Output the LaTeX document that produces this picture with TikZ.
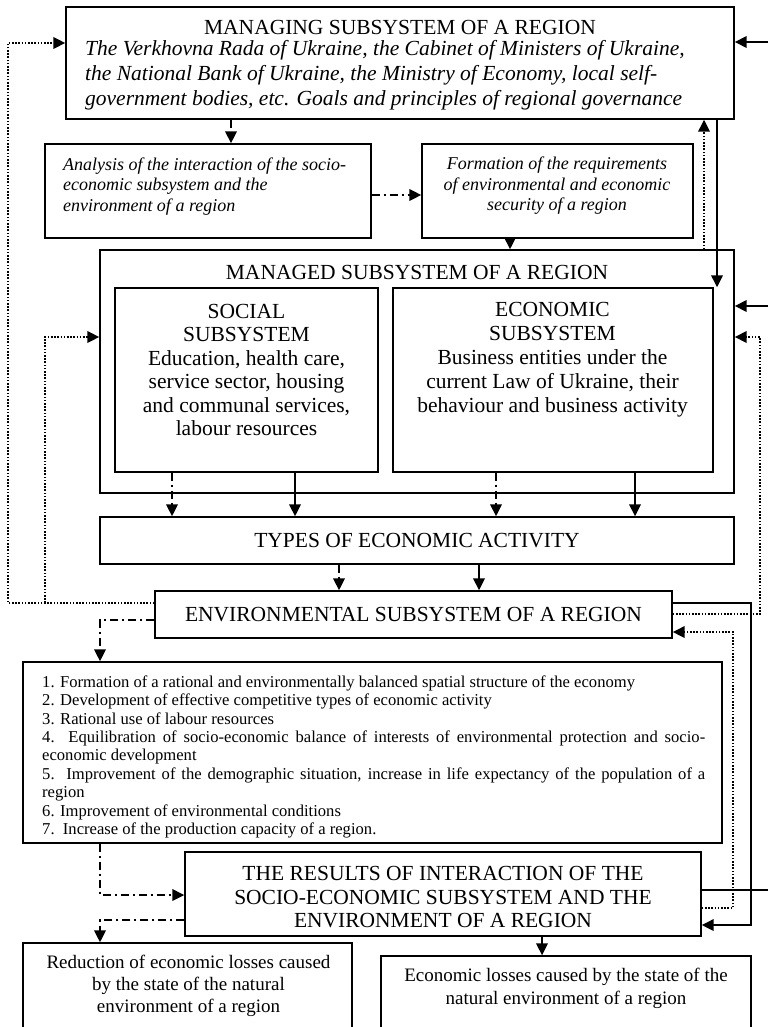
\documentclass[tikz,border=0pt]{standalone}
\usepackage{fontspec}
\setmainfont{Liberation Serif}
\usetikzlibrary{arrows.meta,fit}
\begin{document}
\begin{tikzpicture}[x=1pt,y=-1pt,
  box/.style={draw, line width=1.4pt, inner sep=0pt},
  txt/.style={inner sep=0pt, align=center},
  con/.style={line width=1.8pt},
  arr/.style={-{Triangle[length=12pt,width=11.5pt]}},
  dd/.style={con, dash pattern=on 8pt off 4pt on 2pt off 4pt},
  dt/.style={con, dash pattern=on 1.6pt off 1.6pt},
  big/.style={font=\fontsize{21.5}{23.5}\selectfont},
  mid/.style={font=\fontsize{19}{22}\selectfont},
  ita/.style={font=\fontsize{18}{20.5}\selectfont\itshape},
  sml/.style={font=\fontsize{16.6}{18.4}\selectfont}]
\useasboundingbox (0,0) rectangle (768,1027);
\clip (0,0) rectangle (768,1027);
\fill[white] (0,0) rectangle (768,1027);

% boxes
\node[box, fit={(66,7) (734,119)}] (mng) {};
\node[box, fit={(45,144) (371,238)}] (ana) {};
\node[box, fit={(422,144) (693,238)}] (frm) {};
\node[box, fit={(100,250) (734,493)}] (mgd) {};
\node[box, fit={(115,288) (378,472)}] (soc) {};
\node[box, fit={(393,288) (713,472)}] (eco) {};
\node[box, fit={(100,517) (734,564)}] (typ) {};
\node[box, fit={(155,591) (672,638)}] (env) {};
\node[box, fit={(23,662) (722,843)}] (lst) {};
\node[box, fit={(185,852) (701,936)}] (res) {};
\node[box, fit={(23,943) (352,1060)}] (red) {};
\node[box, fit={(381,956) (751,1060)}] (los) {};

% texts
\node[txt, big] (mngT) at (400,27) {MANAGING SUBSYSTEM OF A REGION};
\node[txt, big, font=\fontsize{21.5}{25}\selectfont\itshape, align=left, anchor=west] (mngI) at (85,75.5)
  {The Verkhovna Rada of Ukraine, the Cabinet of Ministers of Ukraine,\\
   the National Bank of Ukraine, the Ministry of Economy, local self-\\
   government bodies, etc. Goals and principles of regional governance};
\node[txt, ita, align=left, anchor=west] (anaT) at (63,186.5)
  {Analysis of the interaction of the socio-\\economic subsystem and the\\environment of a region};
\node[txt, ita] (frmT) at (557,186)
  {Formation of the requirements\\of environmental and economic\\security of a region};
\node[txt, big] (mgdT) at (417,272) {MANAGED SUBSYSTEM OF A REGION};
\node[txt, big] (socT) at (246.5,370)
  {SOCIAL\\SUBSYSTEM\\Education, health care,\\service sector, housing\\and communal services,\\labour resources};
\node[txt, big, font=\fontsize{21.5}{24}\selectfont] (ecoT) at (552.5,360)
  {ECONOMIC\\SUBSYSTEM\\Business entities under the\\current Law of Ukraine, their\\behaviour and business activity};
\node[txt, big] (typT) at (417,540.5) {TYPES OF ECONOMIC ACTIVITY};
\node[txt, big] (envT) at (413.5,614.5) {ENVIRONMENTAL SUBSYSTEM OF A REGION};
\node[txt, sml, text width=663pt, align=justify, anchor=north west] (lstT) at (42,675.5)
  {1. Formation of a rational and environmentally balanced spatial structure of the economy\par
   2. Development of effective competitive types of economic activity\par
   3. Rational use of labour resources\par
   4. Equilibration of socio-economic balance of interests of environmental protection and socio-\linebreak economic development\par
   5.\ \ Improvement of the demographic situation, increase in life expectancy of the population of a\linebreak region\par
   6. Improvement of environmental conditions\par
   7.\ \ Increase of the production capacity of a region.};
\node[txt, big] (resT) at (443,897.5)
  {THE RESULTS OF INTERACTION OF THE\\SOCIO-ECONOMIC SUBSYSTEM AND THE\\ENVIRONMENT OF A REGION};
\node[txt, mid] (redT) at (188.5,986)
  {Reduction of economic losses caused\\by the state of the natural\\environment of a region};
\node[txt, mid, font=\fontsize{19}{23}\selectfont] (losT) at (566,988.5)
  {Economic losses caused by the state of the\\natural environment of a region};

% free ends at the right edge
\coordinate (e1) at (768,42);
\coordinate (e2) at (768,306);
\coordinate (e3) at (768,890);

% connectors
\draw[dd, arr] (231,0 |- mng.south) -- (231,0 |- ana.north);
\draw[dd, arr] (ana.east |- 0,195) -- (frm.west |- 0,195);
\draw[con, arr] (510,0 |- frm.south) -- (510,0 |- mgd.north);
\draw[dt, arr] (704,0 |- mgd.north) -- (704,0 |- mng.south);
\draw[con, arr] (717,0 |- mng.south) -- (717,0 |- eco.north);
\draw[con, arr] (e1) -- (mng.east |- e1);
\draw[con, arr] (e2) -- (mgd.east |- e2);

\draw[dd, arr] (172,0 |- soc.south) -- (172,0 |- typ.north);
\draw[con, arr] (295,0 |- soc.south) -- (295,0 |- typ.north);
\draw[dd, arr] (496,0 |- eco.south) -- (496,0 |- typ.north);
\draw[con, arr] (635,0 |- eco.south) -- (635,0 |- typ.north);

\draw[dd, arr] (339,0 |- typ.south) -- (339,0 |- env.north);
\draw[con, arr] (479,0 |- typ.south) -- (479,0 |- env.north);

\draw[dt, arr] (env.west |- 0,603) -- (8,603) -- (8,43) -- (mng.west |- 0,43);
\draw[dt, arr] (45,603) -- (45,337) -- (mgd.west |- 0,337);

\draw[dd, arr] (env.west |- 0,620) -- (100,620) -- (100,0 |- lst.north);
\draw[dd, arr] (100,0 |- lst.south) -- (100,895) -- (res.west |- 0,895);
\draw[dd, arr] (res.west |- 0,920) -- (100,920) -- (100,0 |- red.north);
\draw[con, arr] (542,0 |- res.south) -- (542,0 |- los.north);

\draw[con, arr] (env.east |- 0,603) -- (751,603) -- (751,925) -- (res.east |- 0,925);
\draw[dt, arr] (env.east |- 0,614) -- (760,614) -- (760,337) -- (mgd.east |- 0,337);
\draw[dt, arr] (res.east |- 0,908) -- (733,908) -- (733,632) -- (env.east |- 0,632);
\draw[con] (res.east |- e3) -- (e3);
\end{tikzpicture}
\end{document}
